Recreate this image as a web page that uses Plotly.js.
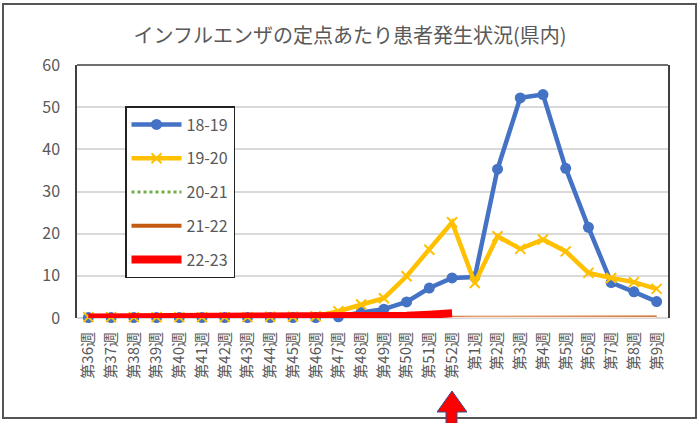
<!DOCTYPE html>
<html>
<head>
<meta charset="utf-8">
<script src="https://cdn.plot.ly/plotly-3.0.1.min.js"></script>
<style>
  body { margin: 0; background: #fff; }
  #chart { width: 700px; height: 423px; }
</style>
</head>
<body>
<div id="chart"></div>
<script>
const weeks = ["第36週", "第37週", "第38週", "第39週", "第40週", "第41週", "第42週", "第43週", "第44週",
    "第45週", "第46週", "第47週", "第48週", "第49週", "第50週", "第51週", "第52週",
    "第1週", "第2週", "第3週", "第4週", "第5週", "第6週", "第7週", "第8週", "第9週"];

const s1819 = [0.1, 0.1, 0.1, 0.1, 0.1, 0.1, 0.1, 0.1, 0.1, 0.1, 0.1, 0.3, 1.3, 2.1, 3.8, 7.1, 9.5,
    9.7, 35.3, 52.2, 53.0, 35.5, 21.5, 8.4, 6.2, 3.9];
const s1920 = [0.2, 0.2, 0.2, 0.2, 0.2, 0.2, 0.2, 0.2, 0.3, 0.3, 0.4, 1.6, 3.2, 4.7, 9.9, 16.2, 22.7,
    8.3, 19.4, 16.4, 18.6, 15.8, 10.7, 9.5, 8.5, 6.9];
const s2021 = [0.0, 0.0, 0.0, 0.0, 0.0, 0.0, 0.0, 0.0, 0.0, 0.0, 0.0, 0.0, 0.0, 0.0, 0.0, 0.0, 0.1,
    0.1, 0.1, 0.1, 0.1, 0.1, 0.1, 0.1, 0.1, 0.1];
const s2122 = [0.0, 0.0, 0.0, 0.0, 0.0, 0.0, 0.0, 0.0, 0.0, 0.0, 0.0, 0.0, 0.0, 0.0, 0.0, 0.1, 0.1,
    0.2, 0.2, 0.2, 0.1, 0.1, 0.1, 0.1, 0.1, 0.1];
const s2223 = [0.1, 0.1, 0.1, 0.1, 0.1, 0.1, 0.1, 0.1, 0.1, 0.15, 0.15, 0.2, 0.3, 0.4, 0.55, 0.8, 1.1];

const font = "Noto Sans CJK JP, Noto Sans, sans-serif";
const gray = "#595959";

const traces = [
    {
        x: weeks, y: s1819, name: "18-19", type: "scatter", mode: "lines+markers",
        line: {color: "#4472c4", width: 4.5}, marker: {color: "#4472c4", size: 11},
        cliponaxis: false, legendgroup: "a"
    },
    {
        x: weeks, y: s1920, name: "19-20", type: "scatter", mode: "lines+markers",
        line: {color: "#ffc000", width: 4.5},
        marker: {symbol: "x-thin", size: 10, line: {color: "#ffc000", width: 2}},
        cliponaxis: false, legendgroup: "b"
    },
    {
        x: weeks, y: s2021, name: "20-21", type: "scatter", mode: "lines",
        line: {color: "#70ad47", width: 3, dash: "dot"},
        cliponaxis: false, legendgroup: "c"
    },
    {
        x: weeks, y: s2122, name: "21-22", type: "scatter", mode: "lines",
        line: {color: "#c55a11", width: 4},
        cliponaxis: false, legendgroup: "d"
    },
    {
        // inner light line makes the 21-22 line look like a double line
        x: weeks, y: s2122, name: "21-22", type: "scatter", mode: "lines",
        line: {color: "#fbe5d6", width: 1.5},
        cliponaxis: false, legendgroup: "d", showlegend: false, hoverinfo: "skip"
    },
    {
        x: weeks.slice(0, s2223.length), y: s2223, name: "22-23", type: "scatter", mode: "lines",
        line: {color: "#ff0000", width: 8},
        cliponaxis: false, legendgroup: "e"
    }
];

// plot area in pixels, used to place the frame and the arrow
const L = 77, R = 668, T = 65, B = 318;
const px = v => (v - L) / (R - L);
const py = v => (B - v) / (B - T);

const arrowPts = [[452, 391], [467, 412], [457, 412], [457, 425], [446, 425], [446, 412], [437, 412]];
const arrowPath = "M" + arrowPts.map(p => px(p[0]) + "," + py(p[1])).join(" L") + " Z";

const layout = {
    width: 700, height: 423,
    margin: {l: L, r: 700 - R, t: T, b: 423 - B},
    paper_bgcolor: "#fff", plot_bgcolor: "#fff",
    font: {family: font, color: gray},
    title: {
        text: "インフルエンザの定点あたり患者発生状況(県内)",
        font: {family: font, size: 20, color: gray},
        x: 0.5, xanchor: "center", y: 0.915, yanchor: "middle"
    },
    xaxis: {
        type: "category", range: [-0.5, weeks.length - 0.5],
        tickangle: -90, showgrid: false, zeroline: false,
        showline: false, ticks: "", ticklabelstandoff: 10,
        tickfont: {family: font, size: 15, color: gray}
    },
    yaxis: {
        range: [0, 60], dtick: 10, showgrid: true, gridcolor: "#d9d9d9", gridwidth: 1.5,
        zeroline: true, zerolinecolor: "#d9d9d9", zerolinewidth: 1.5,
        showline: true, mirror: true, linecolor: "#404040", linewidth: 1.5,
        ticks: "", ticklabelstandoff: 12,
        tickfont: {family: font, size: 16, color: gray}
    },
    legend: {
        x: px(125), y: py(106), xanchor: "left", yanchor: "top",
        bgcolor: "#fff", bordercolor: "#222", borderwidth: 1.5,
        font: {family: font, size: 16, color: gray},
        traceorder: "grouped", tracegroupgap: 10, itemwidth: 50
    },
    showlegend: true,
    shapes: [
        {type: "line", xref: "paper", yref: "paper", x0: 0, x1: 1, y0: 1, y1: 1,
         line: {color: "#404040", width: 1.5}},
        {type: "rect", xref: "paper", yref: "paper", x0: px(3), x1: px(696), y0: py(418), y1: py(4),
         line: {color: "#555", width: 2}},
        {type: "path", xref: "paper", yref: "paper", path: arrowPath,
         fillcolor: "#ff0000", line: {color: "#2f5597", width: 1}}
    ]
};

Plotly.newPlot("chart", traces, layout, {displayModeBar: false});
</script>
</body>
</html>
